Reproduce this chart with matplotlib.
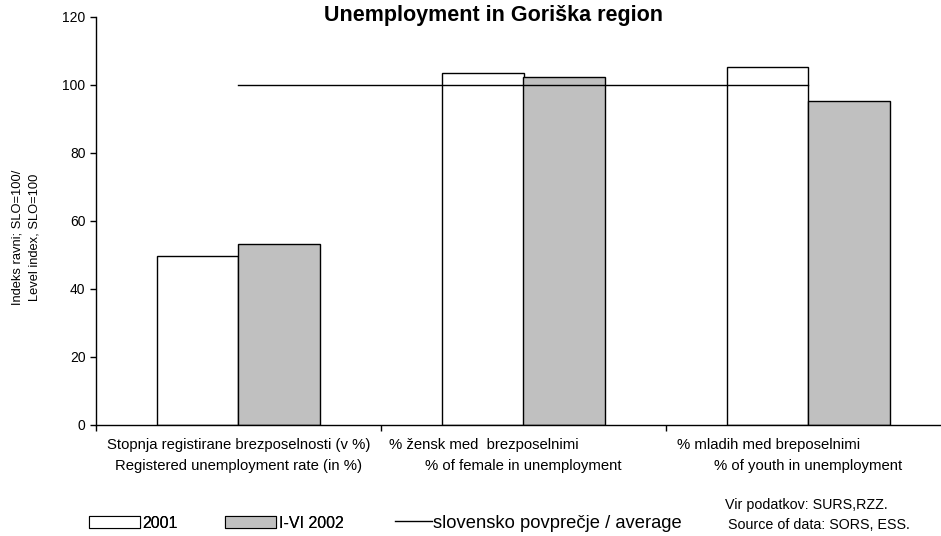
import matplotlib
matplotlib.use("Agg")
import matplotlib.pyplot as plt
from matplotlib.patches import Patch
from matplotlib.lines import Line2D
import matplotlib.transforms as mtransforms

plt.rcParams['font.family'] = ['Liberation Sans', 'DejaVu Sans']

# ---- data ----
cat_line1 = ["Stopnja registirane brezposelnosti (v %)",
             "% žensk med  brezposelnimi",
             "% mladih med breposelnimi"]
cat_line2 = ["Registered unemployment rate (in %)",
             "% of female in unemployment",
             "% of youth in unemployment"]
values_2001 = [49.8, 103.5, 105.4]
values_2002 = [53.3, 102.3, 95.3]
average = [100, 100, 100]
series_names = ["2001", "I-VI 2002", "slovensko povprečje / average"]
yticks = [0, 20, 40, 60, 80, 100, 120]
title = "Unemployment in Goriška region"
ylabel = "Indeks ravni; SLO=100/\nLevel index, SLO=100"
source_lines = ["Vir podatkov: SURS,RZZ.", "Source of data: SORS, ESS."]

W, H = 941, 536
fig = plt.figure(figsize=(W / 100, H / 100), dpi=100)
ax = fig.add_axes([96 / W, 1 - 425 / H, 855 / W, 408 / H])

x = list(range(len(cat_line1)))
bw = 0.285
ax.bar([i - bw / 2 for i in x], values_2001, width=bw, color='white',
       edgecolor='black', linewidth=1.0, zorder=2)
ax.bar([i + bw / 2 for i in x], values_2002, width=bw, color='#c0c0c0',
       edgecolor='black', linewidth=1.0, zorder=2)
ax.plot(x, average, color='black', linewidth=1.0, zorder=3)

ax.set_xlim(-0.5, len(x) - 0.5)
ax.set_ylim(0, 120)
ax.set_yticks(yticks)
ax.set_yticklabels([str(v) for v in yticks], fontsize=10)
ax.set_xticks([i - 0.5 for i in range(len(x) + 1)])
ax.set_xticklabels([])
ax.tick_params(axis='both', direction='out', length=4, width=1, colors='black')
for s in ['top', 'right']:
    ax.spines[s].set_visible(False)
ax.spines['left'].set_linewidth(1)
ax.spines['bottom'].set_linewidth(1)

# category labels
offsets1 = [0, -40, -40]
for i in x:
    tr1 = ax.get_xaxis_transform() + mtransforms.ScaledTranslation(offsets1[i] / 100, 0, fig.dpi_scale_trans)
    ax.text(i, -0.05, cat_line1[i], transform=tr1, ha='center', va='center', fontsize=10.7)
    ax.text(i, -0.10, cat_line2[i], transform=ax.get_xaxis_transform(), ha='center', va='center', fontsize=10.7)

fig.text(494 / W, 1 - 21 / H, title, ha='center', va='baseline', fontsize=15.5, fontweight='bold')
fig.text(26 / W, 1 - 237 / H, ylabel, rotation=90, ha='center', va='center', fontsize=9.3,
         linespacing=1.5)

# legend
bar_handles = [Patch(facecolor='white', edgecolor='black', linewidth=0.8),
               Patch(facecolor='#c0c0c0', edgecolor='black', linewidth=0.8)]
leg1 = fig.legend(bar_handles, series_names[:2], loc='center left',
                  bbox_to_anchor=(89 / W, 1 - 523 / H), ncol=2, frameon=False,
                  fontsize=11.5, handlelength=3.2, handleheight=0.7, handletextpad=0.15,
                  columnspacing=2.95, borderaxespad=0, borderpad=0)
leg2 = fig.legend([Line2D([0], [0], color='black', linewidth=1)], series_names[2:],
                  loc='center left', bbox_to_anchor=(395 / W, 1 - 523 / H), frameon=False,
                  fontsize=13.2, handlelength=2.0, handletextpad=0.08, borderaxespad=0, borderpad=0)
fig.add_artist(leg1)

fig.text(725 / W, 1 - 505 / H, source_lines[0], ha='left', va='center', fontsize=10.3)
fig.text(728 / W, 1 - 525 / H, source_lines[1], ha='left', va='center', fontsize=10.3)

fig.savefig("out.png", dpi=100)
